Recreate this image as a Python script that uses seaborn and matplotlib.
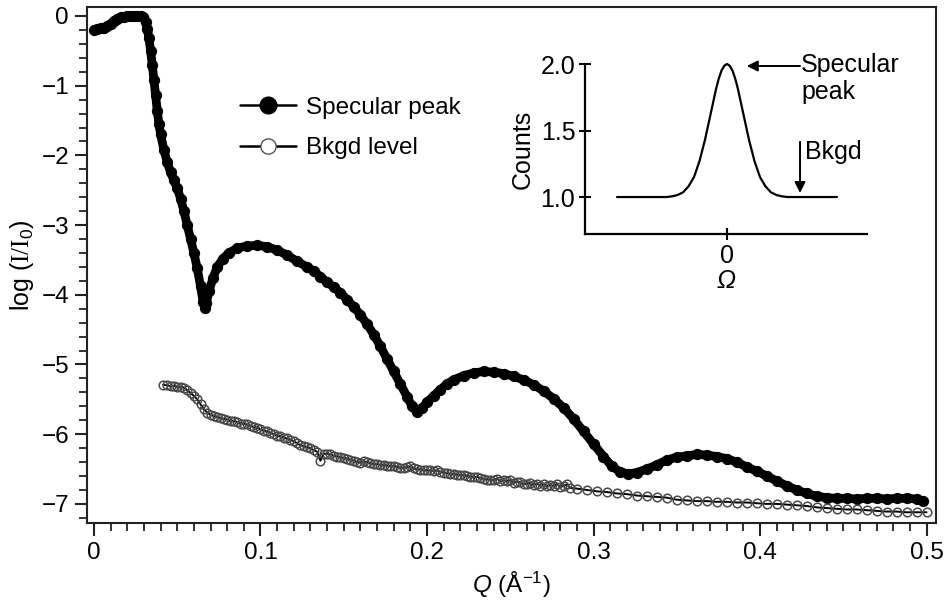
import matplotlib
matplotlib.use("Agg")
import matplotlib.pyplot as plt
import seaborn as sns
from matplotlib.lines import Line2D
from matplotlib.ticker import MultipleLocator

# ---------------- data ----------------
spec_q = [0.000, 0.002, 0.004, 0.006, 0.008, 0.010, 0.012, 0.014, 0.016, 0.018,
          0.020, 0.022, 0.024, 0.026, 0.028, 0.0295, 0.031, 0.032, 0.033, 0.034,
          0.035, 0.036, 0.037, 0.038, 0.039, 0.040, 0.042, 0.044, 0.046, 0.048,
          0.050, 0.052, 0.054, 0.056, 0.058, 0.060, 0.062, 0.064, 0.0655, 0.0665,
          0.0675, 0.069, 0.0715, 0.074, 0.0775, 0.081, 0.086, 0.092, 0.098, 0.104,
          0.110, 0.116, 0.122, 0.128, 0.132, 0.136, 0.140, 0.144, 0.148, 0.152,
          0.156, 0.160, 0.164, 0.168, 0.172, 0.176, 0.180, 0.184, 0.188, 0.191,
          0.194, 0.197, 0.200, 0.204, 0.208, 0.212, 0.216, 0.222, 0.228, 0.234,
          0.240, 0.246, 0.252, 0.258, 0.264, 0.270, 0.276, 0.282, 0.288, 0.294,
          0.300, 0.306, 0.311, 0.316, 0.321, 0.326, 0.332, 0.338, 0.344, 0.350,
          0.356, 0.362, 0.368, 0.374, 0.380, 0.386, 0.392, 0.398, 0.404, 0.410,
          0.416, 0.422, 0.428, 0.434, 0.440, 0.446, 0.452, 0.458, 0.464, 0.470,
          0.476, 0.482, 0.488, 0.494, 0.498]
spec_logI = [-0.20, -0.19, -0.17, -0.17, -0.15, -0.11, -0.07, -0.04, -0.02, -0.01,
             0.00, 0.00, 0.00, 0.00, 0.00, -0.02, -0.08, -0.18, -0.32, -0.50,
             -0.70, -0.92, -1.14, -1.36, -1.55, -1.70, -1.92, -2.10, -2.24, -2.36,
             -2.47, -2.62, -2.80, -3.00, -3.20, -3.40, -3.62, -3.88, -4.10, -4.19,
             -4.12, -3.95, -3.76, -3.60, -3.48, -3.40, -3.33, -3.30, -3.29, -3.31,
             -3.36, -3.43, -3.52, -3.60, -3.66, -3.74, -3.82, -3.89, -3.97, -4.07,
             -4.17, -4.29, -4.42, -4.57, -4.74, -4.92, -5.10, -5.28, -5.46, -5.60,
             -5.68, -5.63, -5.54, -5.45, -5.36, -5.28, -5.22, -5.16, -5.12, -5.10,
             -5.11, -5.13, -5.17, -5.22, -5.29, -5.38, -5.49, -5.62, -5.78, -5.96,
             -6.14, -6.32, -6.46, -6.54, -6.57, -6.55, -6.50, -6.44, -6.37, -6.33,
             -6.31, -6.29, -6.30, -6.32, -6.35, -6.40, -6.47, -6.53, -6.60, -6.67,
             -6.74, -6.80, -6.85, -6.89, -6.91, -6.92, -6.92, -6.93, -6.92, -6.92,
             -6.93, -6.92, -6.92, -6.93, -6.96]

bkgd_q = [0.0415, 0.044, 0.046, 0.048, 0.050, 0.052, 0.054, 0.056, 0.058, 0.060,
          0.062, 0.064, 0.066, 0.068, 0.070, 0.072, 0.074, 0.076, 0.078, 0.080,
          0.082, 0.084, 0.086, 0.088, 0.090, 0.092, 0.094, 0.096, 0.098, 0.100,
          0.102, 0.104, 0.106, 0.108, 0.110, 0.112, 0.114, 0.116, 0.118, 0.120,
          0.122, 0.124, 0.126, 0.128, 0.130, 0.132, 0.134, 0.136, 0.138, 0.140,
          0.142, 0.144, 0.146, 0.148, 0.150, 0.152, 0.154, 0.156, 0.158, 0.160,
          0.162, 0.164, 0.166, 0.168, 0.170, 0.172, 0.174, 0.176, 0.178, 0.180,
          0.182, 0.184, 0.186, 0.188, 0.190, 0.192, 0.194, 0.196, 0.198, 0.200,
          0.202, 0.204, 0.206, 0.208, 0.210, 0.212, 0.214, 0.216, 0.218, 0.220,
          0.222, 0.224, 0.226, 0.228, 0.230, 0.232, 0.234, 0.236, 0.238, 0.240,
          0.242, 0.244, 0.246, 0.248, 0.250, 0.252, 0.254, 0.256, 0.258, 0.260,
          0.262, 0.264, 0.266, 0.268, 0.270, 0.272, 0.274, 0.276, 0.278, 0.280,
          0.282, 0.284, 0.286, 0.290, 0.296, 0.302, 0.308, 0.314, 0.320, 0.326,
          0.332, 0.338, 0.344, 0.350, 0.356, 0.362, 0.368, 0.374, 0.380, 0.386,
          0.392, 0.398, 0.404, 0.410, 0.416, 0.422, 0.428, 0.434, 0.440, 0.446,
          0.452, 0.458, 0.464, 0.470, 0.476, 0.482, 0.488, 0.494, 0.500]
bkgd_logI = [-5.29, -5.30, -5.31, -5.31, -5.32, -5.32, -5.33, -5.37, -5.41, -5.45,
             -5.50, -5.57, -5.64, -5.69, -5.72, -5.74, -5.75, -5.77, -5.78, -5.79,
             -5.81, -5.81, -5.83, -5.85, -5.85, -5.86, -5.88, -5.90, -5.91, -5.93,
             -5.95, -5.96, -5.98, -6.00, -6.02, -6.03, -6.05, -6.06, -6.08, -6.10,
             -6.13, -6.16, -6.17, -6.19, -6.20, -6.23, -6.25, -6.38, -6.28, -6.28,
             -6.29, -6.31, -6.32, -6.33, -6.34, -6.35, -6.37, -6.38, -6.40, -6.41,
             -6.39, -6.40, -6.42, -6.43, -6.43, -6.44, -6.44, -6.45, -6.46, -6.45,
             -6.47, -6.48, -6.49, -6.47, -6.46, -6.49, -6.50, -6.51, -6.51, -6.52,
             -6.52, -6.53, -6.52, -6.54, -6.55, -6.56, -6.57, -6.57, -6.58, -6.59,
             -6.58, -6.60, -6.61, -6.62, -6.61, -6.63, -6.64, -6.65, -6.65, -6.66,
             -6.64, -6.67, -6.66, -6.67, -6.66, -6.70, -6.68, -6.69, -6.72, -6.71,
             -6.70, -6.73, -6.71, -6.74, -6.72, -6.74, -6.73, -6.75, -6.71, -6.76,
             -6.74, -6.72, -6.77, -6.78, -6.80, -6.82, -6.83, -6.85, -6.86, -6.88,
             -6.89, -6.90, -6.91, -6.94, -6.95, -6.96, -6.96, -6.97, -6.97, -6.98,
             -6.98, -6.99, -7.00, -7.00, -7.01, -7.02, -7.03, -7.05, -7.06, -7.07,
             -7.08, -7.08, -7.09, -7.10, -7.11, -7.11, -7.12, -7.12, -7.12]

series_names = ["Specular peak", "Bkgd level"]

x_ticks = [0.0, 0.1, 0.2, 0.3, 0.4, 0.5]
x_tick_labels = ["0", "0.1", "0.2", "0.3", "0.4", "0.5"]
y_ticks = [0, -1, -2, -3, -4, -5, -6, -7]
y_tick_labels = ["0", "\u22121", "\u22122", "\u22123", "\u22124", "\u22125", "\u22126", "\u22127"]

# inset: schematic rocking curve
inset_omega = [-1.0, -0.55, -0.5, -0.45, -0.4, -0.35, -0.3, -0.25, -0.2, -0.15, -0.1,
               -0.075, -0.05, -0.025, 0.0, 0.025, 0.05, 0.075, 0.1, 0.15, 0.2, 0.25,
               0.3, 0.35, 0.4, 0.45, 0.5, 0.55, 1.0]
inset_counts = [1.0, 1.0, 1.005, 1.015, 1.035, 1.08, 1.15, 1.27, 1.43, 1.62, 1.81,
                1.89, 1.95, 1.987, 2.0, 1.987, 1.95, 1.89, 1.81, 1.62, 1.43, 1.27,
                1.15, 1.08, 1.035, 1.015, 1.005, 1.0, 1.0]
inset_x_ticks = [0]
inset_x_tick_labels = ["0"]
inset_y_ticks = [1.0, 1.5, 2.0]
inset_y_tick_labels = ["1.0", "1.5", "2.0"]

# ---------------- style ----------------
sns.set_theme(style="ticks")
plt.rcParams["font.family"] = ["Liberation Sans", "DejaVu Sans"]
plt.rcParams["mathtext.fontset"] = "custom"
plt.rcParams["mathtext.rm"] = "Liberation Serif"
plt.rcParams["mathtext.it"] = "Liberation Sans:italic"
plt.rcParams["mathtext.sf"] = "Liberation Sans"
plt.rcParams.update({"text.color": "black", "axes.labelcolor": "black",
                     "xtick.color": "black", "ytick.color": "black",
                     "axes.edgecolor": "black"})

W, H = 948, 600
fig = plt.figure(figsize=(W / 100, H / 100), dpi=100)
ax = fig.add_axes([87 / W, 1 - 523 / H, (936 - 87) / W, (523 - 7) / H])

# specular peak: dense filled circles
sns.lineplot(x=spec_q, y=spec_logI, ax=ax, sort=False, estimator=None,
             color="black", lw=6.3, marker="o", ms=7.3, mfc="black", mec="black",
             mew=0.8)
# background: open circles on a thin line
sns.lineplot(x=bkgd_q, y=bkgd_logI, ax=ax, sort=False, estimator=None,
             color="black", lw=1.4, marker="o", ms=6.2, mfc="none", mec="#4a4a4a",
             mew=1.1)

ax.set_xlim(-0.0042, 0.5057)
ax.set_ylim(-7.274, 0.129)
ax.set_xticks(x_ticks)
ax.set_xticklabels(x_tick_labels)
ax.set_yticks(y_ticks)
ax.set_yticklabels(y_tick_labels)
ax.xaxis.set_minor_locator(MultipleLocator(0.01))
ax.yaxis.set_minor_locator(MultipleLocator(0.2))
ax.tick_params(which="major", direction="out", length=9, width=1.5, labelsize=17.5,
               color="#222222", labelcolor="black")
ax.tick_params(axis="x", which="major", pad=5)
ax.tick_params(axis="y", which="major", pad=4)
ax.tick_params(which="minor", direction="out", length=5.5, width=1.3, color="#222222")
ax.tick_params(top=False, right=False, which="both")
for s in ax.spines.values():
    s.set_linewidth(1.5)
    s.set_color("#222222")

ax.set_xlabel(r"$\mathit{Q}$ (Å$^{\mathsf{-1}}$)", fontsize=17.5, labelpad=4)
ax.set_ylabel(r"log ($\mathrm{I/I}_{\mathsf{0}}$)", fontsize=18, labelpad=4)

handles = [
    Line2D([], [], color="black", lw=1.8, marker="o", ms=12, mfc="black", mec="black"),
    Line2D([], [], color="black", lw=1.8, marker="o", ms=11, mfc="white", mec="#555555",
           mew=1.0),
]
ax.legend(handles, series_names, loc="center left",
          bbox_to_anchor=(240 / W, 1 - 128 / H), bbox_transform=fig.transFigure,
          frameon=False, fontsize=17.5, handlelength=2.3, handletextpad=0.4,
          labelspacing=0.75, borderpad=0, borderaxespad=0)

# ---------------- inset ----------------
ax_in = fig.add_axes([585 / W, 1 - 234 / H, (867 - 585) / W, (234 - 64) / H])
ax_in.patch.set_alpha(0)
sns.lineplot(x=inset_omega, y=inset_counts, ax=ax_in, sort=False,
             estimator=None, color="black", lw=1.6)
for ln in ax_in.lines:
    ln.set_clip_on(False)
ax_in.set_xlim(-1.291, 1.273)
ax_in.set_ylim(0.722, 2.0)
ax_in.set_xticks(inset_x_ticks)
ax_in.set_xticklabels(inset_x_tick_labels)
ax_in.set_yticks(inset_y_ticks)
ax_in.set_yticklabels(inset_y_tick_labels)
ax_in.tick_params(direction="inout", length=8, width=1.5, labelsize=18, color="black")
ax_in.tick_params(axis="y", pad=3)
ax_in.tick_params(axis="x", pad=3)
for side in ["top", "right"]:
    ax_in.spines[side].set_visible(False)
for side in ["left", "bottom"]:
    ax_in.spines[side].set_linewidth(1.6)
    ax_in.spines[side].set_color("black")
ax_in.set_ylabel("Counts", fontsize=18, labelpad=4)
ax_in.set_xlabel("Ω", fontsize=18, fontstyle="italic", labelpad=1)

arrow_kw = dict(arrowstyle="-|>", color="black", lw=1.4, mutation_scale=16,
                shrinkA=0, shrinkB=0)
ax_in.annotate("", xy=(0.18, 1.985), xytext=(0.664, 1.985), arrowprops=arrow_kw,
               annotation_clip=False)
ax_in.text(0.675, 2.085, "Specular\npeak", fontsize=18, ha="left", va="top",
           linespacing=1.15, clip_on=False)
ax_in.annotate("", xy=(0.664, 1.03), xytext=(0.664, 1.415), arrowprops=arrow_kw,
               annotation_clip=False)
ax_in.text(0.71, 1.34, "Bkgd", fontsize=18, ha="left", va="center", clip_on=False)

fig.savefig("out.png", dpi=100)
